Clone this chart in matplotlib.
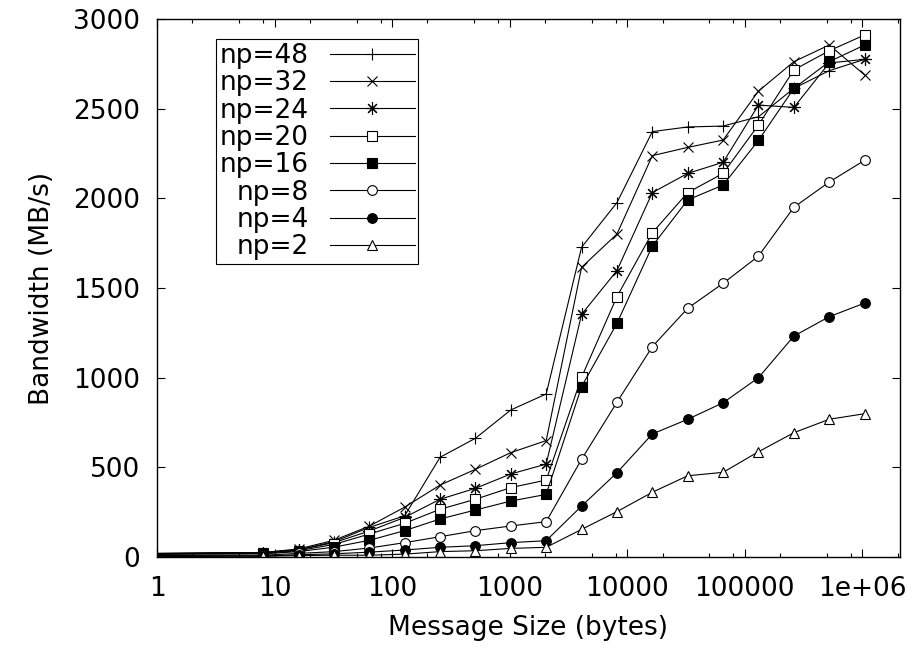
import numpy as np
import matplotlib
matplotlib.use("Agg")
import matplotlib.pyplot as plt
from matplotlib.ticker import LogLocator, FixedLocator, FixedFormatter, NullFormatter

plt.rcParams['font.family'] = ['DejaVu Sans']

# message sizes 1 .. 1M bytes
sizes = [2 ** i for i in range(21)]

np48 = [20, 22, 24, 25, 40, 85, 165, 230, 556, 662, 820, 909, 1727, 1976, 2372, 2398, 2403, 2455, 2613, 2712, 2775]
np32 = [20, 22, 24, 25, 45, 93, 172, 278, 401, 489, 582, 649, 1615, 1801, 2238, 2284, 2325, 2598, 2762, 2855, 2688]
np24 = [18, 20, 21, 22, 40, 80, 145, 221, 322, 383, 463, 518, 1353, 1597, 2032, 2139, 2201, 2520, 2507, 2755, 2775]
np20 = [16, 18, 19, 20, 35, 70, 128, 188, 266, 322, 387, 429, 1002, 1452, 1808, 2032, 2139, 2409, 2716, 2823, 2911]
np16 = [14, 16, 17, 18, 30, 55, 93, 147, 212, 262, 312, 349, 950, 1303, 1734, 1991, 2074, 2323, 2613, 2762, 2855]
np8 = [8, 9, 10, 10, 20, 30, 50, 80, 113, 147, 173, 197, 545, 863, 1173, 1387, 1526, 1678, 1950, 2091, 2212]
np4 = [4, 5, 6, 6, 12, 18, 27, 39, 54, 63, 80, 91, 284, 470, 686, 768, 860, 1000, 1232, 1340, 1416]
np2 = [2, 3, 4, 4, 8, 10, 10, 16, 30, 35, 48, 54, 154, 253, 361, 453, 472, 587, 693, 768, 799]

labels = ['np=48', 'np=32', 'np=24', 'np=20', 'np=16', 'np=8', 'np=4', 'np=2']
series = [np48, np32, np24, np20, np16, np8, np4, np2]
# marker, size, filled
styles = [('+', 8, True), ('x', 7, True), ((8, 2, 0), 9, True), ('s', 6.5, False),
          ('s', 6.5, True), ('o', 7, False), ('o', 7, True), ('^', 7, False)]

xticks = [1, 10, 100, 1000, 10000, 100000, 1000000]
xticklabels = ['1', '10', '100', '1000', '10000', '100000', '1e+06']
yticks = [0, 500, 1000, 1500, 2000, 2500, 3000]

fs = 19

fig = plt.figure(figsize=(9.15, 6.59), dpi=100)
ax = fig.add_axes([157 / 915, 1 - 557 / 659, (900 - 157) / 915, (557 - 19) / 659])

for lab, ys, (m, ms, filled) in zip(labels, series, styles):
    ax.plot(sizes, ys, color='black', lw=0.8, marker=m, markersize=ms,
            markerfacecolor='black' if filled else 'white', markeredgecolor='black',
            markeredgewidth=0.8, markevery=slice(3, None), label=lab)

ax.set_xscale('log')
ax.set_xlim(1, 2 ** 21)
ax.set_ylim(0, 3000)
ax.xaxis.set_major_locator(FixedLocator(xticks))
ax.xaxis.set_major_formatter(FixedFormatter(xticklabels))
ax.xaxis.set_minor_locator(LogLocator(base=10, subs=[2, 5, 8]))
ax.xaxis.set_minor_formatter(NullFormatter())
ax.set_yticks(yticks)

ax.tick_params(which='both', direction='in', top=True, right=True, labelsize=fs, width=0.8)
ax.tick_params(axis='x', which='major', length=6, pad=14)
ax.tick_params(axis='y', which='major', length=6, pad=12)
ax.tick_params(which='minor', length=3)
for s in ax.spines.values():
    s.set_linewidth(1.0)

ax.set_xlabel('Message Size (bytes)', fontsize=fs, labelpad=9)
ax.set_ylabel('Bandwidth (MB/s)', fontsize=fs, labelpad=13)

leg = ax.legend(loc='upper left', bbox_to_anchor=((216 - 157) / 743, (557 - 39) / 538),
                borderaxespad=0, markerfirst=False, fontsize=fs, handlelength=3.2,
                handletextpad=0.8, labelspacing=0.05, borderpad=0.15, fancybox=False,
                framealpha=1, edgecolor='black')
leg.get_frame().set_linewidth(0.8)

fig.savefig('out.png', dpi=100)
